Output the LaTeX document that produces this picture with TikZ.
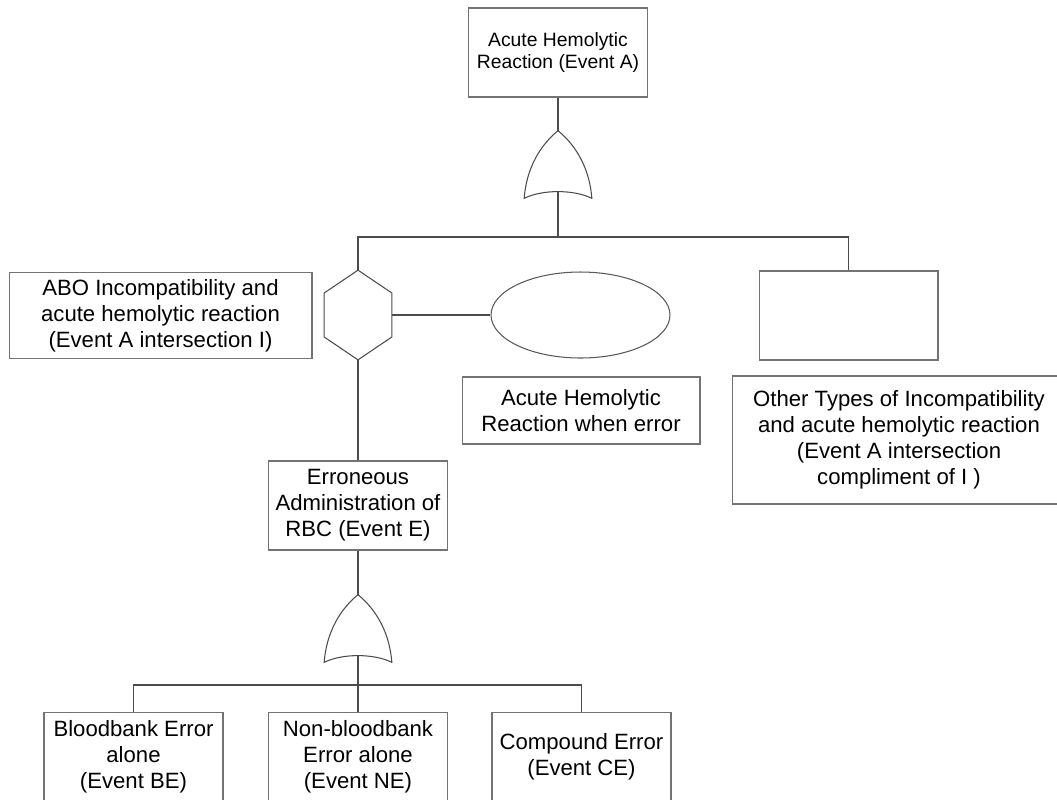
\documentclass[tikz,border=0pt]{standalone}
\usepackage{fontspec}
\setmainfont{Liberation Sans}
\usetikzlibrary{shapes.geometric,calc}

% OR gate outline drawn inside the bounds of node #1
\newcommand\orgate[1]{%
  \draw[wire] (#1.south west)
    .. controls ($(#1.south west)+(3,-38)$) and ($(#1.north)+(-11,9)$) .. (#1.north)
    .. controls ($(#1.north)+(11,9)$) and ($(#1.south east)+(-3,-38)$) .. (#1.south east)
    .. controls ($(#1.south east)+(-18,-9)$) and ($(#1.south west)+(18,-9)$) .. cycle;}

\begin{document}
\begin{tikzpicture}[x=0.02cm,y=-0.02cm,
    box/.style={draw=black!55,line width=0.6pt,align=center,inner sep=2pt,
      minimum width=3.58cm,minimum height=1.78cm,
      font=\fontsize{12.6}{14.8}\selectfont},
    oval/.style={draw=black!65,line width=0.6pt,ellipse,inner sep=0pt,
      minimum width=3.58cm,minimum height=1.72cm},
    gatebox/.style={inner sep=0pt,minimum width=1.34cm,minimum height=1.34cm},
    hexbox/.style={inner sep=0pt,minimum width=1.34cm,minimum height=1.78cm},
    wire/.style={draw=black!70,line width=0.6pt}]
  \useasboundingbox (0,0) rectangle (1057,799);
  \clip (0,0) rectangle (1057,799);
  % top event
  \node[box,font=\fontsize{11}{12.8}\selectfont] (evA) at (558,52.5) {Acute Hemolytic\\Reaction (Event A)};
  \node[gatebox] (orA) at (558,164.5) {};
  \orgate{orA}
  % conditioning hexagon and its labels
  \node[hexbox] (cond) at (358,315) {};
  \draw[wire] (cond.north) -- ($(cond.east)+(0,-22)$) -- ($(cond.east)+(0,22)$)
    -- (cond.south) -- ($(cond.west)+(0,22)$) -- ($(cond.west)+(0,-22)$) -- cycle;
  \node[box,minimum width=6.06cm,minimum height=1.72cm] (abo) at (160.5,315.5) {ABO Incompatibility and\\acute hemolytic reaction\\(Event A intersection I)};
  \node[oval] (ahr) at (580.5,315) {};
  \node[box,minimum width=4.76cm,minimum height=1.34cm] (ahrlbl) at (581,410.5) {Acute Hemolytic\\Reaction when error};
  \node[box] (other) at (848.5,315.5) {};
  \node[box,minimum width=6.68cm,minimum height=2.56cm] (otherlbl) at (899,440) {Other Types of Incompatibility\\and acute hemolytic reaction\\(Event A intersection\\compliment of I )};
  % erroneous administration
  \node[box] (evE) at (358,505.5) {Erroneous\\Administration of\\RBC (Event E)};
  \node[gatebox] (orE) at (358,628.5) {};
  \orgate{orE}
  \node[box] (evBE) at (133.5,756.5) {Bloodbank Error\\alone\\(Event BE)};
  \node[box] (evNE) at (358,756.5) {Non-bloodbank\\Error alone\\(Event NE)};
  \node[box] (evCE) at (581.5,756.5) {Compound Error\\(Event CE)};
  % connectors
  \coordinate (busA) at (558,237);
  \coordinate (busE) at (358,685);
  \draw[wire] (evA.south) -- (orA.north);
  \draw[wire] ([yshift=0.12cm]orA.south) -- (busA);
  \draw[wire] (cond.north) |- (busA) -| (other.north);
  \draw[wire] (cond.east) -- (ahr.west);
  \draw[wire] (cond.south) -- (evE.north);
  \draw[wire] (evE.south) -- (orE.north);
  \draw[wire] ([yshift=0.12cm]orE.south) -- (evNE.north);
  \draw[wire] (evBE.north) |- (busE) -| (evCE.north);
\end{tikzpicture}
\end{document}
